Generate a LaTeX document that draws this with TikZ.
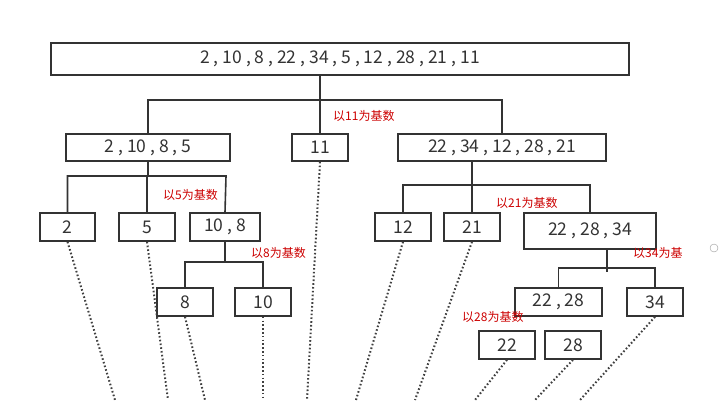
\documentclass[tikz,border=0pt]{standalone}
\usepackage{fontspec}
\setmainfont{Noto Sans CJK SC}
\begin{document}
\begin{tikzpicture}[x=1pt,y=-1pt,
  box/.style={draw=black!80,line width=1.6pt,inner sep=0pt,text=black!80,font=\fontsize{17.5}{19}\selectfont},
  br/.style={draw=black!80,line width=1.6pt},
  dot/.style={draw=black!75,line width=2pt,dash pattern=on 1.6pt off 2.2pt},
  lab/.style={text=red!80!black,font=\fontsize{12}{14}\selectfont,inner sep=0pt}]
\useasboundingbox (0,0) rectangle (719,400);
\node[box,minimum width=578pt,minimum height=32pt] (r) at (340,59) {2 , 10 , 8 , 22 , 34 , 5 , 12 , 28 , 21 , 11};
\node[box,minimum width=164pt,minimum height=27pt] (a) at (148,147.5) {2 , 10 , 8 , 5};
\node[box,minimum width=56pt,minimum height=27pt] (b) at (320,147.5) {11};
\node[box,minimum width=208pt,minimum height=27pt] (c) at (502,147.5) {22 , 34 , 12 , 28 , 21};
\node[box,minimum width=55pt,minimum height=28pt] (n2) at (67.5,227) {2};
\node[box,minimum width=56pt,minimum height=28pt] (n5) at (147,227) {5};
\node[box,minimum width=70pt,minimum height=28pt] (n108) at (225,227) {10 , 8};
\node[box,minimum width=56pt,minimum height=28pt] (n8) at (185,302) {8};
\node[box,minimum width=56pt,minimum height=28pt] (n10) at (263,302) {10};
\node[box,minimum width=56pt,minimum height=28pt] (n12) at (403,227) {12};
\node[box,minimum width=56pt,minimum height=28pt] (n21) at (472,227) {21};
\node[box,minimum width=132pt,minimum height=36pt] (n3) at (590,231) {22 , 28 , 34};
\node[box,minimum width=87pt,minimum height=28pt] (n2228) at (558.5,302) {22 , 28};
\node[box,minimum width=56pt,minimum height=28pt] (n34) at (655,302) {34};
\node[box,minimum width=56pt,minimum height=28pt] (m22) at (507,345) {22};
\node[box,minimum width=56pt,minimum height=28pt] (m28) at (573,345) {28};
% brackets
\draw[br] (r.south -| b) -- (b.north);
\draw[br] (a.north) -- (148,100) -- (502,100) -- (c.north);
\draw[br] (a.south) -- (148,176);
\draw[br] (n2.north) -- (67.5,176) -- (226,176) -- (n108.north);
\draw[br] (n5.north) -- (147,176);
\draw[br] (n108.south) -- (225,262);
\draw[br] (n8.north) -- (185,262) -- (263,262) -- (n10.north);
\draw[br] (c.south -| n21) -- (n21.north);
\draw[br] (n12.north) -- (403,185) -- (590,185) -- (n3.north);
\draw[br] (n3.south -| 607,0) -- (607,272);
\draw[br] (n2228.north) -- (558.5,268) -- (655,268) -- (n34.north);
% labels
\node[lab,anchor=west] (l11) at (333,116) {以11为基数};
\node[lab,anchor=west] (l5) at (163,195) {以5为基数};
\node[lab,anchor=west] (l8) at (251,253) {以8为基数};
\node[lab,anchor=west] (l21) at (496,203) {以21为基数};
\node[lab,anchor=west] (l34) at (633,253) {以34为基};
\node[lab,anchor=west] (l28) at (462,317) {以28为基数};
% dotted
\coordinate (e1) at (115,400); \coordinate (e2) at (168,400); \coordinate (e3) at (205,400);
\coordinate (e4) at (263,400); \coordinate (e5) at (307,400); \coordinate (e6) at (356,400);
\coordinate (e7) at (415,400); \coordinate (e8) at (475,400); \coordinate (e9) at (535,400);
\coordinate (e10) at (580,400);
\draw[dot] (n2.south) -- (e1); \draw[dot] (n5.south) -- (e2);
\draw[dot] (n8.south) -- (e3); \draw[dot] (n10.south) -- (e4);
\draw[dot] (b.south) -- (e5); \draw[dot] (n12.south) -- (e6);
\draw[dot] (n21.south) -- (e7); \draw[dot] (m22.south) -- (e8);
\draw[dot] (m28.south) -- (e9); \draw[dot] (n34.south) -- (e10);
\node[draw=black!40,circle,minimum size=8pt,inner sep=0pt] (circ) at (714,248) {};
\end{tikzpicture}
\end{document}
